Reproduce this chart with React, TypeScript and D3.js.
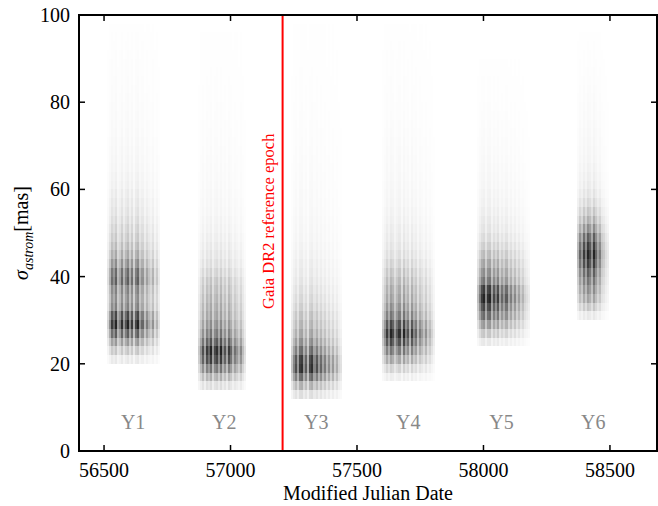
import React from "react";
import * as d3 from "d3";

const X_TICKS = [56500, 57000, 57500, 58000, 58500];
const Y_TICKS = [0, 20, 40, 60, 80, 100];
const SEASON_LABELS = ["Y1", "Y2", "Y3", "Y4", "Y5", "Y6"];
const SEASON_LABEL_MJD = [56615, 56975, 57339, 57703, 58071, 58434];
const REF_EPOCH = 57205.875;
const COL_DAYS = 8;
const ROW_MAS = 2;

// start MJD of each season's first column bin
const SEASON_START = [56512, 56870, 57240, 57600, 57975, 58368];
// start (mas) of each season's vertical profile
const PROFILE_START = [20, 14, 12, 16, 24, 30];

// relative column (night-group) weights, 8-day bins
const Y1_COLS = [0.2, 0.5, 0.9, 0.7, 1.0, 0.45, 0.6, 0.95, 0.5, 0.8, 1.0, 0.55, 0.9, 0.4, 0.85, 1.0, 0.5, 0.7, 0.35, 0.6, 0.4, 0.3, 0.5, 0.2, 0.35, 0.15];
const Y2_COLS = [0.25, 0.5, 0.8, 0.45, 0.9, 0.7, 1.0, 0.5, 0.85, 0.95, 0.6, 1.0, 0.55, 0.8, 0.45, 0.9, 0.7, 0.4, 0.65, 0.5, 0.35, 0.55, 0.3, 0.15];
const Y3_COLS = [0.3, 0.6, 0.85, 0.5, 0.95, 1.0, 0.55, 0.8, 0.4, 0.9, 1.0, 0.6, 0.85, 0.5, 0.75, 0.45, 0.65, 0.35, 0.55, 0.3, 0.5, 0.25, 0.4, 0.2, 0.15];
const Y4_COLS = [0.3, 0.55, 0.9, 0.6, 1.0, 0.85, 0.5, 0.75, 0.95, 0.45, 1.0, 0.6, 0.8, 0.4, 0.9, 0.55, 0.7, 0.35, 0.6, 0.45, 0.3, 0.5, 0.25, 0.35, 0.2, 0.1];
const Y5_COLS = [0.3, 0.6, 0.9, 1.0, 0.55, 0.95, 1.0, 0.5, 0.85, 0.6, 0.9, 0.45, 0.7, 0.5, 0.75, 0.4, 0.6, 0.35, 0.55, 0.3, 0.45, 0.25, 0.35, 0.2, 0.15, 0.1];
const Y6_COLS = [0.35, 0.7, 0.5, 0.9, 0.6, 1.0, 0.85, 0.55, 1.0, 0.7, 0.45, 0.6, 0.3, 0.25, 0.15, 0.1];

// relative density per 2-mas bin, starting at PROFILE_START
const Y1_PROFILE = [0.1, 0.25, 0.45, 0.7, 0.95, 0.8, 0.55, 0.5, 0.55, 0.7, 0.65, 0.5, 0.38, 0.3, 0.24, 0.2, 0.16, 0.13, 0.11, 0.09, 0.07, 0.06, 0.05, 0.045, 0.04, 0.035, 0.03, 0.028, 0.025, 0.022, 0.02, 0.018, 0.016, 0.015, 0.014, 0.012, 0.01, 0.008, 0.006];
const Y2_PROFILE = [0.15, 0.35, 0.6, 0.85, 0.95, 0.75, 0.6, 0.5, 0.42, 0.38, 0.34, 0.3, 0.26, 0.2, 0.15, 0.12, 0.1, 0.08, 0.065, 0.055, 0.045, 0.04, 0.035, 0.03, 0.028, 0.025, 0.022, 0.02, 0.018, 0.016, 0.015, 0.013, 0.012, 0.01, 0.01, 0.008, 0.007, 0.006, 0.006, 0.005, 0.005];
const Y3_PROFILE = [0.15, 0.35, 0.65, 0.9, 0.85, 0.65, 0.5, 0.4, 0.33, 0.28, 0.22, 0.18, 0.15, 0.12, 0.1, 0.085, 0.07, 0.06, 0.05, 0.045, 0.04, 0.035, 0.032, 0.03, 0.027, 0.025, 0.022, 0.02, 0.018, 0.016, 0.015, 0.013, 0.012, 0.011, 0.01, 0.009, 0.008, 0.007, 0.006, 0.006, 0.005, 0.005, 0.005];
const Y4_PROFILE = [0.08, 0.2, 0.4, 0.6, 0.8, 0.95, 0.8, 0.6, 0.5, 0.42, 0.38, 0.32, 0.26, 0.2, 0.15, 0.12, 0.1, 0.085, 0.07, 0.06, 0.05, 0.045, 0.04, 0.035, 0.032, 0.03, 0.027, 0.024, 0.02, 0.018, 0.016, 0.015, 0.013, 0.012, 0.011, 0.01, 0.009, 0.008, 0.007, 0.006, 0.005];
const Y5_PROFILE = [0.1, 0.25, 0.45, 0.65, 0.8, 0.95, 0.85, 0.6, 0.5, 0.4, 0.3, 0.22, 0.16, 0.12, 0.1, 0.08, 0.065, 0.055, 0.045, 0.04, 0.035, 0.03, 0.026, 0.022, 0.02, 0.017, 0.015, 0.012, 0.01, 0.009, 0.008, 0.006, 0.005];
const Y6_PROFILE = [0.1, 0.25, 0.4, 0.5, 0.6, 0.7, 0.85, 0.95, 0.85, 0.7, 0.5, 0.35, 0.25, 0.17, 0.12, 0.09, 0.075, 0.06, 0.05, 0.045, 0.04, 0.035, 0.03, 0.027, 0.024, 0.02, 0.018, 0.015, 0.012, 0.01, 0.008, 0.007, 0.006];

const SEASON_COLS = [Y1_COLS, Y2_COLS, Y3_COLS, Y4_COLS, Y5_COLS, Y6_COLS];
const SEASON_PROFILES = [Y1_PROFILE, Y2_PROFILE, Y3_PROFILE, Y4_PROFILE, Y5_PROFILE, Y6_PROFILE];

const W = 658;
const H = 506;
const M = { left: 79, right: 1, top: 15, bottom: 55 };
const FONT = "'Liberation Serif', 'DejaVu Serif', serif";

export default function App() {
  const x = d3.scaleLinear().domain([56401, 58686]).range([M.left, W - M.right]);
  const y = d3.scaleLinear().domain([0, 100]).range([H - M.bottom, M.top]);
  const opacity = d3.scaleLinear().domain([0, 1]).range([0, 0.9]).clamp(true);

  const cells: { x0: number; x1: number; y0: number; y1: number; o: number }[] = [];
  SEASON_COLS.forEach((cols, s) => {
    const prof = SEASON_PROFILES[s];
    cols.forEach((cw, i) => {
      const m0 = SEASON_START[s] + i * COL_DAYS;
      prof.forEach((pv, j) => {
        const v0 = PROFILE_START[s] + j * ROW_MAS;
        cells.push({ x0: x(m0), x1: x(m0 + COL_DAYS), y0: y(v0 + ROW_MAS), y1: y(v0), o: opacity(cw * pv) });
      });
    });
  });

  const left = M.left;
  const right = W - M.right;
  const top = M.top;
  const bottom = H - M.bottom;

  return (
    <svg width={W} height={H} style={{ position: "absolute", left: 0, top: 0 }}>
      <rect x={0} y={0} width={W} height={H} fill="white" />
      <g shapeRendering="crispEdges">
        {cells.map((c, k) => (
          <rect key={k} x={c.x0} y={c.y0} width={c.x1 - c.x0} height={c.y1 - c.y0} fill="#000" fillOpacity={c.o} />
        ))}
      </g>
      {SEASON_LABELS.map((t, i) => (
        <text key={t} x={x(SEASON_LABEL_MJD[i])} y={429} textAnchor="middle" fontFamily={FONT} fontSize={20} fill="#888">
          {t}
        </text>
      ))}
      <line x1={x(REF_EPOCH)} x2={x(REF_EPOCH)} y1={top} y2={bottom} stroke="#ff0000" strokeWidth={2} />
      <text
        transform={`translate(${x(REF_EPOCH) - 9},309) rotate(-90)`}
        fontFamily={FONT}
        fontSize={16.5}
        fill="#ff0000"
        textAnchor="start"
      >
        Gaia DR2 reference epoch
      </text>
      {X_TICKS.map((t) => (
        <g key={t}>
          <line x1={x(t)} x2={x(t)} y1={bottom} y2={bottom - 6} stroke="#000" strokeWidth={1.5} />
          <line x1={x(t)} x2={x(t)} y1={top} y2={top + 6} stroke="#000" strokeWidth={1.5} />
          <text x={x(t)} y={477} textAnchor="middle" fontFamily={FONT} fontSize={20} fill="#000">
            {t}
          </text>
        </g>
      ))}
      {Y_TICKS.map((t) => (
        <g key={t}>
          <line x1={left} x2={left + 6} y1={y(t)} y2={y(t)} stroke="#000" strokeWidth={1.5} />
          <line x1={right} x2={right - 6} y1={y(t)} y2={y(t)} stroke="#000" strokeWidth={1.5} />
          <text x={70} y={y(t) + 7} textAnchor="end" fontFamily={FONT} fontSize={20} fill="#000">
            {t}
          </text>
        </g>
      ))}
      <rect x={left} y={top} width={right - left} height={bottom - top} fill="none" stroke="#000" strokeWidth={2} />
      <text x={(left + right) / 2} y={500} textAnchor="middle" fontFamily={FONT} fontSize={20} fill="#000">
        Modified Julian Date
      </text>
      <text transform={`translate(28,${(top + bottom) / 2}) rotate(-90)`} textAnchor="middle" fontFamily={FONT} fontSize={20} fill="#000">
        <tspan fontStyle="italic">σ</tspan>
        <tspan fontStyle="italic" fontSize={14} dy={5}>astrom</tspan>
        <tspan dy={-5}>[mas]</tspan>
      </text>
    </svg>
  );
}
